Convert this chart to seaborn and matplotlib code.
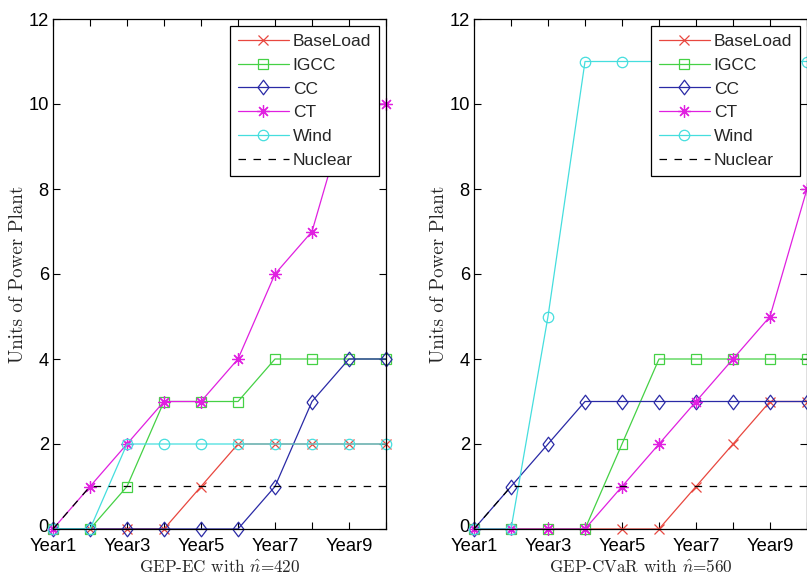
import matplotlib
matplotlib.use("Agg")
import matplotlib.pyplot as plt
import matplotlib.transforms as mtransforms
import seaborn as sns

# Planning horizon and tick labels
years = list(range(1, 11))
year_labels = ["Year1", "", "Year3", "", "Year5", "", "Year7", "", "Year9", ""]
series_names = ["BaseLoad", "IGCC", "CC", "CT", "Wind", "Nuclear"]

# GEP-EC (n̂ = 420): cumulative units built per technology
ec_baseload = [0, 0, 0, 0, 1, 2, 2, 2, 2, 2]
ec_igcc = [0, 0, 1, 3, 3, 3, 4, 4, 4, 4]
ec_cc = [0, 0, 0, 0, 0, 0, 1, 3, 4, 4]
ec_ct = [0, 1, 2, 3, 3, 4, 6, 7, 10, 10]
ec_wind = [0, 0, 2, 2, 2, 2, 2, 2, 2, 2]
ec_nuclear = [0, 1, 1, 1, 1, 1, 1, 1, 1, 1]

# GEP-CVaR (n̂ = 560)
cvar_baseload = [0, 0, 0, 0, 0, 0, 1, 2, 3, 3]
cvar_igcc = [0, 0, 0, 0, 2, 4, 4, 4, 4, 4]
cvar_cc = [0, 1, 2, 3, 3, 3, 3, 3, 3, 3]
cvar_ct = [0, 0, 0, 0, 1, 2, 3, 4, 5, 8]
cvar_wind = [0, 0, 5, 11, 11, 11, 11, 11, 11, 11]
cvar_nuclear = [0, 1, 1, 1, 1, 1, 1, 1, 1, 1]

panel_titles = [r"GEP-EC with $\hat{n}$=420", r"GEP-CVaR with $\hat{n}$=560"]

sns.set_theme(style="ticks")
plt.rcParams["font.family"] = ["Liberation Sans", "DejaVu Sans"]
plt.rcParams["mathtext.fontset"] = "cm"

diamond = [(-0.38, 0.0), (0.0, 0.5), (0.38, 0.0), (0.0, -0.5), (-0.38, 0.0)]
styles = {
    "BaseLoad": dict(color="#e8473f", marker="x", markersize=6.5, linestyle="-"),
    "IGCC": dict(color="#45d145", marker="s", markersize=6.5, linestyle="-"),
    "CC": dict(color="#2a2aa6", marker=diamond, markersize=10.5, linestyle="-"),
    "CT": dict(color="#e020e0", marker=(8, 2, 0), markersize=9, linestyle="-"),
    "Wind": dict(color="#45dede", marker="o", markersize=7.5, linestyle="-"),
    "Nuclear": dict(color="black", marker="", markersize=0, linestyle=(0, (6, 6))),
}

fig = plt.figure(figsize=(8.07, 5.77), dpi=100)
ax_left = fig.add_axes([53 / 807, 48 / 577, 333 / 807, 510 / 577])
ax_right = fig.add_axes([474 / 807, 48 / 577, 333 / 807, 510 / 577])

panels = [
    (ax_left, [ec_baseload, ec_igcc, ec_cc, ec_ct, ec_wind, ec_nuclear]),
    (ax_right, [cvar_baseload, cvar_igcc, cvar_cc, cvar_ct, cvar_wind, cvar_nuclear]),
]

# small upward nudge for the "0" label so it clears the "Year1" label
nudge_up = mtransforms.ScaledTranslation(0, 2.5 / 72, fig.dpi_scale_trans)

for (ax, data), title in zip(panels, panel_titles):
    for name, vals in zip(series_names, data):
        st = styles[name]
        sns.lineplot(
            x=years, y=vals, ax=ax, label=name,
            color=st["color"], linestyle=st["linestyle"], linewidth=0.9,
            marker=st["marker"], markersize=st["markersize"],
            markerfacecolor="none", markeredgecolor=st["color"],
            markeredgewidth=0.9, clip_on=False,
        )
    ax.set_xlim(1, 10)
    ax.set_ylim(0, 12)
    ax.set_xticks(years)
    ax.set_xticklabels(year_labels)
    ax.set_yticks(range(0, 13, 2))
    ax.tick_params(direction="in", length=5, width=0.8, top=True, right=True,
                   labelsize=13.2, colors="black")
    ax.tick_params(axis="x", pad=6.5)
    ax.tick_params(axis="y", pad=3)
    zero_label = ax.get_yticklabels()[0]
    zero_label.set_transform(zero_label.get_transform() + nudge_up)
    for sp in ax.spines.values():
        sp.set_visible(True)
        sp.set_color("black")
        sp.set_linewidth(0.9)
    ax.set_ylabel("Units of Power Plant", fontfamily="cmr10", fontsize=13.7, labelpad=1)
    ax.set_xlabel(title, fontfamily="cmr10", fontsize=12.3, labelpad=2.5)
    leg = ax.legend(loc="upper right", fontsize=12.5, frameon=True, fancybox=False,
                    framealpha=1, edgecolor="black", handlelength=2.9,
                    handletextpad=0.25, labelspacing=0.5, borderpad=0.45,
                    borderaxespad=0.4)
    leg.get_frame().set_linewidth(0.9)

fig.savefig("out.png", dpi=100)
